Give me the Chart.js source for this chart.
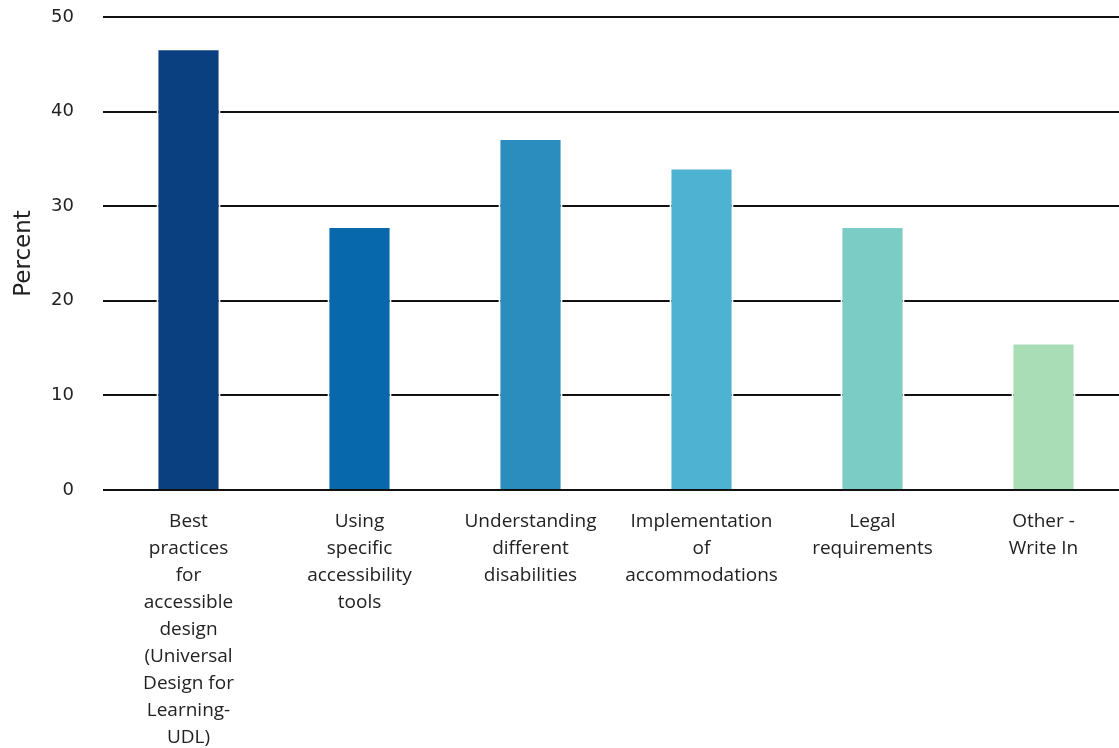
<!DOCTYPE html>
<html>
<head>
<meta charset="utf-8">
<script src="https://cdn.jsdelivr.net/npm/chart.js@4/dist/chart.umd.min.js"></script>
<style>
  html, body { margin: 0; padding: 0; background: #fff; overflow: hidden; }
  #wrap { width: 1129px; height: 748px; position: relative; }
</style>
</head>
<body>
<div id="wrap"><canvas id="barChart"></canvas></div>
<script>
// topics and share of respondents (%)
const topics = [
  ['Best', 'practices', 'for', 'accessible', 'design', '(Universal', 'Design for', 'Learning-', 'UDL)'],
  ['Using', 'specific', 'accessibility', 'tools'],
  ['Understanding', 'different', 'disabilities'],
  ['Implementation', 'of', 'accommodations'],
  ['Legal', 'requirements'],
  ['Other -', 'Write In']
];
const percents = [46.7, 27.9, 37.2, 34.1, 27.9, 15.6];
const barColors = ['#0a3f80', '#0868ac', '#2b8cbe', '#4eb3d3', '#7bccc4', '#a8ddb5'];
const yTicks = [0, 10, 20, 30, 40, 50];

const labelFont = "'Open Sans', Lato, sans-serif";
const axisFont = "'DejaVu Sans', sans-serif";

const canvas = document.getElementById('barChart');
new Chart(canvas, {
  type: 'bar',
  data: {
    labels: topics,
    datasets: [{
      label: 'Percent',
      data: percents,
      backgroundColor: barColors,
      borderColor: '#ffffff',
      borderWidth: 2,
      borderSkipped: 'start',
      barPercentage: 0.375,
      categoryPercentage: 1.0
    }]
  },
  options: {
    responsive: true,
    maintainAspectRatio: false,
    animation: false,
    layout: { padding: { top: 17, right: 0, bottom: 0, left: 0 } },
    plugins: {
      legend: { display: false },
      tooltip: { enabled: false }
    },
    scales: {
      x: {
        afterFit: (scale) => {
          scale.height = 258;
          scale.paddingTop = 0;
          scale.paddingBottom = 0;
        },
        grid: { display: false },
        border: { display: false },
        ticks: {
          color: '#222',
          font: { family: labelFont, size: 19, lineHeight: 27 / 19 },
          padding: 10,
          maxRotation: 0,
          autoSkip: false
        }
      },
      y: {
        min: 0,
        max: 50,
        afterBuildTicks: (scale) => { scale.ticks = yTicks.map(v => ({ value: v })); },
        afterFit: (scale) => {
          scale.width = 103;
          scale.paddingTop = 0;
          scale.paddingBottom = 0;
        },
        grid: {
          color: '#111',
          lineWidth: 2,
          drawTicks: false
        },
        border: { display: false },
        ticks: {
          color: '#222',
          font: { family: axisFont, size: 18 },
          padding: 29
        },
        title: {
          display: true,
          text: 'Percent',
          color: '#222',
          font: { family: axisFont, size: 23 },
          padding: { top: 10, bottom: 0 }
        }
      }
    }
  }
});
</script>
</body>
</html>
